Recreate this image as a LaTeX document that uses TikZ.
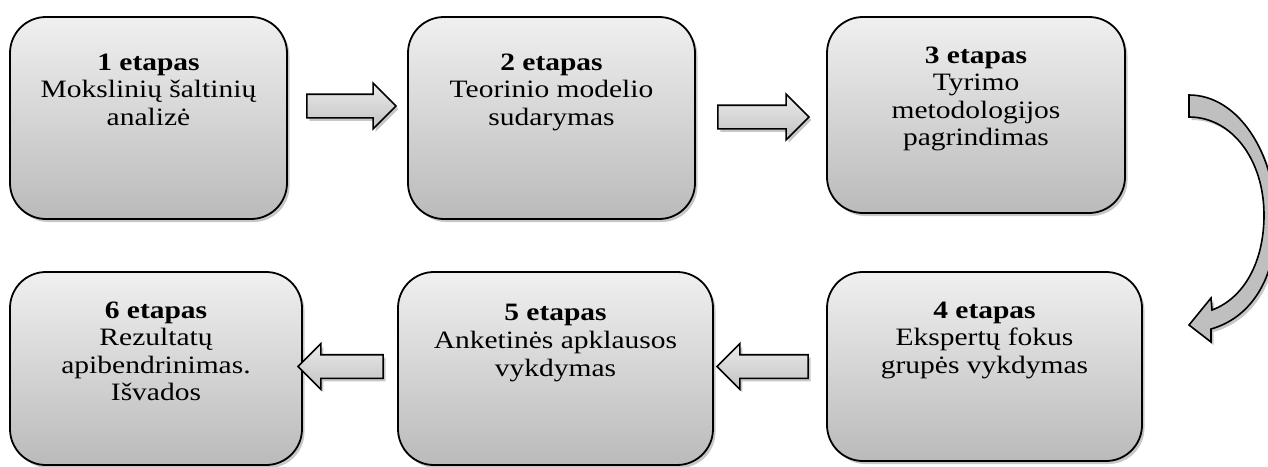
\documentclass[tikz,border=0pt]{standalone}
\usepackage{fontspec}
\setmainfont{Liberation Serif}[FakeStretch=1.18]
\usetikzlibrary{shapes.arrows,shadows}
\begin{document}
\begin{tikzpicture}[x=1pt,y=-1pt,
  softshadow/.style={drop shadow={shadow xshift=2.5pt,shadow yshift=-3pt,opacity=.22,fill=black}},
  stagebox/.style={rectangle,rounded corners=36pt,draw=black,line width=1.8pt,
    top color=black!6,bottom color=black!27,inner sep=0pt,softshadow},
  % multi-line text: the base anchor sits on the baseline of the last line
  stagetext/.style={align=center,inner sep=0pt,anchor=base,
    font=\fontsize{25}{27.6}\selectfont},
  blockarrow/.style={single arrow,draw=black,line width=1.6pt,inner xsep=0pt,inner ysep=11pt,
    single arrow head extend=11pt,minimum width=44pt,
    top color=black!8,bottom color=black!24,softshadow},
  curvedarrow/.style={draw=black,line width=1.6pt,fill=black!25,line join=miter,softshadow}]
\useasboundingbox (0,0) rectangle (1268,466);

% stage boxes
\node[stagebox,minimum width=277pt,minimum height=202pt] (b1) at (148.5,118) {};
\node[stagebox,minimum width=287pt,minimum height=202pt] (b2) at (551.5,118) {};
\node[stagebox,minimum width=298pt,minimum height=196pt] (b3) at (976,115) {};
\node[stagebox,minimum width=315pt,minimum height=189pt] (b4) at (984.5,366.5) {};
\node[stagebox,minimum width=315pt,minimum height=193pt] (b5) at (555.5,368.5) {};
\node[stagebox,minimum width=292pt,minimum height=193pt] (b6) at (156,368.5) {};

% stage texts
\node[stagetext] (t1) at (148.5,125.2) {\textbf{1 etapas}\\Mokslinių šaltinių\\analizė};
\node[stagetext] (t2) at (551.5,125.2) {\textbf{2 etapas}\\Teorinio modelio\\sudarymas};
\node[stagetext] (t3) at (976,145.8) {\textbf{3 etapas}\\Tyrimo\\metodologijos\\pagrindimas};
\node[stagetext] (t4) at (984.5,373.2) {\textbf{4 etapas}\\Ekspertų fokus\\grupės vykdymas};
\node[stagetext] (t5) at (555.5,376) {\textbf{5 etapas}\\Anketinės apklausos\\vykdymas};
\node[stagetext] (t6) at (156,400.8) {\textbf{6 etapas}\\Rezultatų\\apibendrinimas.\\Išvados};

% straight block arrows between stages
\node[blockarrow,minimum height=89pt] (a12) at (345.5,106) {};
\node[blockarrow,minimum height=91pt] (a23) at (757.5,117) {};
\node[blockarrow,minimum height=91pt,shape border rotate=180] (a45) at (768.5,366.5) {};
\node[blockarrow,minimum height=85pt,shape border rotate=180] (a56) at (346.5,366.5) {};

% curved arrow from stage 3 down to stage 4
\begin{scope}
\clip (0,0) rectangle (1268,466);
\path[curvedarrow]
  (1189,95) .. controls (1239,95) and (1276,155) .. (1276,222)
  .. controls (1276,280) and (1250,318) .. (1211,329)
  -- (1211,342) -- (1189,325) -- (1211,298) -- (1212,310)
  .. controls (1244,298) and (1264,262) .. (1264,215)
  .. controls (1264,160) and (1232,117) .. (1189,117) -- cycle;
\end{scope}
\end{tikzpicture}
\end{document}
